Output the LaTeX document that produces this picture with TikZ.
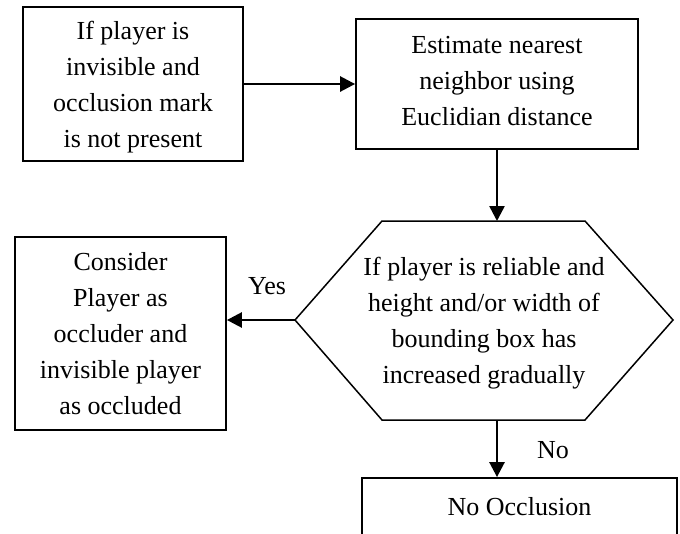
\documentclass[tikz,border=0pt]{standalone}
\usepackage{fontspec}
\setmainfont{Liberation Serif}
\usetikzlibrary{arrows.meta}
\begin{document}
\begin{tikzpicture}[x=1pt,y=-1pt,
  box/.style={draw, line width=1.8pt, inner sep=0pt},
  txt/.style={align=center, font=\fontsize{26}{36}\selectfont, inner sep=0pt},
  arr/.style={line width=2.6pt, -{Triangle[length=15pt,width=15pt]}},
  hexline/.style={line width=1.5pt, line join=miter},
  lbl/.style={font=\fontsize{26}{30}\selectfont, inner sep=0pt}]
\useasboundingbox (0,0) rectangle (680,533);
\begin{scope}
\clip (0,0) rectangle (680,533);
% boxes
\node[box, minimum width=220pt, minimum height=154pt] (b1) at (133,84) {};
\node[box, minimum width=282pt, minimum height=130pt] (b2) at (497,84) {};
\node[box, minimum width=211pt, minimum height=193pt] (b3) at (120.5,333.5) {};
\node[box, minimum width=315pt, minimum height=110pt] (b4) at (519.5,533) {};
% hexagon
\coordinate (hT) at (497,221);
\coordinate (h1) at (382,221);
\coordinate (h2) at (585,221);
\coordinate (hR) at (673,320);
\coordinate (h3) at (585,420);
\coordinate (h4) at (382,420);
\coordinate (hL) at (295,320);
\coordinate (hB) at (497,420);
\draw[hexline] (h1) -- (h2) -- (hR) -- (h3) -- (h4) -- (hL) -- cycle;
% texts
\node[txt] (t1) at (133,87.5) {If player is\\invisible and\\occlusion mark\\is not present};
\node[txt] (t2) at (497,81.5) {Estimate nearest\\neighbor using\\Euclidian distance};
\node[txt] (t3) at (484,323.5) {If player is reliable and\\height and/or width of\\bounding box has\\increased gradually};
\node[txt] (t4) at (120.5,334) {Consider\\Player as\\occluder and\\invisible player\\as occluded};
\node[txt] (t5) at (519.5,507) {No Occlusion};
% labels
\node[lbl] (yes) at (267,286) {Yes};
\node[lbl] (no) at (553,450) {No};
% connectors
\draw[arr] (b1.east) -- (b2.west |- b1.east);
\draw[arr] (b2.south) -- (hT);
\draw[arr] (hL) -- (b3.east |- hL);
\draw[arr] (hB) -- (b4.north -| hB);
\end{scope}
\end{tikzpicture}
\end{document}
